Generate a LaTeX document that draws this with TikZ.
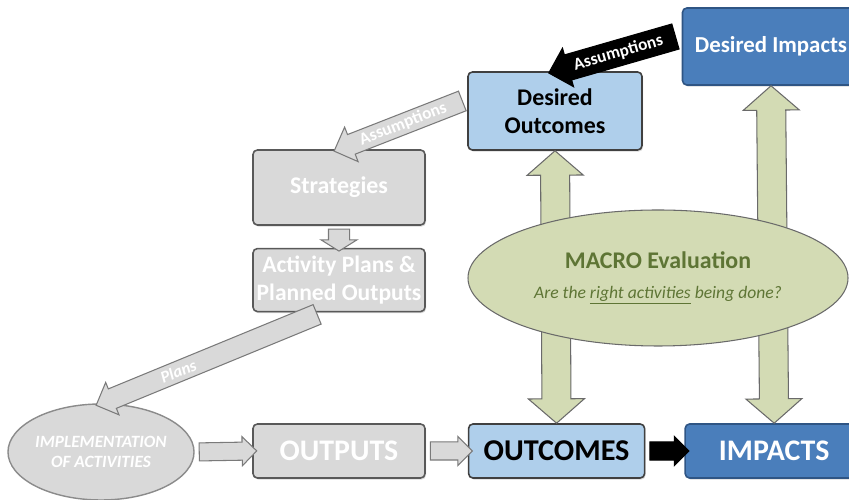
\documentclass[tikz,border=0pt]{standalone}
\usepackage{fontspec}
\setmainfont{Carlito}
\usepackage{xcolor}
\usepackage{tikz}
\usetikzlibrary{arrows.meta, positioning, shapes.geometric, shapes.arrows, calc, shadows}

\definecolor{impblue}{HTML}{4A7EBB}
\definecolor{impline}{HTML}{2F5584}
\definecolor{outblue}{HTML}{AFCFEB}
\definecolor{boxline}{HTML}{404040}
\definecolor{greyfill}{HTML}{D9D9D9}
\definecolor{greyline}{HTML}{595959}
\definecolor{macrofill}{HTML}{D3DBB4}
\definecolor{macrotext}{HTML}{5E7535}

% block arrow from #2 to #3, shape style #1
\newcommand{\blockarrow}[3]{%
  \path let \p1=(#2), \p2=(#3),
        \n1={veclen(\x2-\x1,\y2-\y1)}, \n2={atan2(\y2-\y1,\x2-\x1)} in
        node[#1, minimum height=\n1, rotate=\n2] at ($(\p1)!0.5!(\p2)$) {};}

\begin{document}
\begin{tikzpicture}[
    font=\bfseries,
    box/.style={rectangle, rounded corners=2.5pt, draw=#1, line width=0.9pt,
                align=center, inner sep=1pt,
                drop shadow={opacity=0.3, shadow xshift=0.6pt, shadow yshift=-0.9pt}},
    darkbox/.style={box=impline, fill=impblue, text=white},
    lightbox/.style={box=boxline, fill=outblue, text=black},
    greybox/.style={box=greyline, fill=greyfill, text=white},
    arrbase/.style={single arrow, inner xsep=0pt, line width=0.6pt,
                    minimum width=0pt},
    garr/.style={arrbase, fill=greyfill, draw=greyline!80},
    karr/.style={arrbase, fill=black, draw=black},
    flowg/.style={garr, inner ysep=0.17cm, single arrow head extend=0.11cm,
                  single arrow tip angle=90},
    flowk/.style={karr, inner ysep=0.17cm, single arrow head extend=0.11cm,
                  single arrow tip angle=90},
    stepdown/.style={garr, inner ysep=0.2cm, single arrow head extend=0.15cm,
                     single arrow tip angle=116},
    assumk/.style={karr, inner ysep=0.25cm, single arrow head extend=0.14cm,
                   single arrow tip angle=90},
    assumg/.style={garr, inner ysep=0.2cm, single arrow head extend=0.16cm,
                   single arrow tip angle=90},
    plansg/.style={garr, inner ysep=0.2cm, single arrow head extend=0.14cm,
                   single arrow tip angle=90},
    evalarr/.style={double arrow, inner xsep=0pt, inner ysep=0.28cm,
                    minimum width=0pt, double arrow head extend=0.27cm,
                    double arrow tip angle=98, fill=macrofill,
                    draw=greyline!90, line width=0.6pt},
    lbl/.style={text=white, font=\bfseries\fontsize{9.8}{11}\selectfont, inner sep=0pt}
  ]
  \useasboundingbox (0,0) rectangle (16.98,10);

  % top part
  \node[darkbox, minimum width=3.54cm, minimum height=1.54cm,
        font=\bfseries\fontsize{13}{15}\selectfont] (dimp) at (15.42,9.07)
        {Desired Impacts};
  \node[lightbox, minimum width=3.48cm, minimum height=1.56cm,
        font=\bfseries\fontsize{13.6}{15.8}\selectfont] (dout) at (11.10,7.78)
        {Desired\\Outcomes};

  \node[greybox, minimum width=3.44cm, minimum height=1.5cm,
        font=\bfseries\fontsize{13.6}{15.8}\selectfont] (strat) at (6.78,6.25)
        {Strategies};
  \node[greybox, minimum width=3.44cm, minimum height=1.26cm,
        font=\bfseries\fontsize{13.4}{15.8}\selectfont, below=0.44cm of strat] (act)
        {Activity Plans \&\\Planned Outputs};

  % bottom row
  \node[ellipse, draw=greyline!70, line width=0.8pt, fill=greyfill, text=white,
        minimum width=3.68cm, minimum height=1.92cm, inner sep=0pt, align=center,
        font=\bfseries\itshape\fontsize{9.8}{11.5}\selectfont] (impl) at (2.02,0.96)
        {IMPLEMENTATION\\OF ACTIVITIES};
  \node[greybox, minimum width=3.44cm, minimum height=1.08cm,
        font=\bfseries\fontsize{17}{19}\selectfont] (outp) at (6.78,0.98) {OUTPUTS};
  \node[lightbox, minimum width=3.52cm, minimum height=1.08cm,
        font=\bfseries\fontsize{17.2}{19}\selectfont, right=0.84cm of outp] (outc) {OUTCOMES};
  \node[darkbox, minimum width=3.56cm, minimum height=1.08cm,
        font=\bfseries\fontsize{17}{19}\selectfont, right=0.78cm of outc] (imp) {IMPACTS};

  \coordinate (dimpw) at ($(dimp.north west)!0.35!(dimp.south west)$);
  \coordinate (doutw) at ($(dout.north west)!0.35!(dout.south west)$);
  \coordinate (acts)  at ($(act.south)+(-0.34,0)$);

  % arrows
  \blockarrow{assumk}{dimpw}{dout.north}
  \blockarrow{assumg}{doutw}{strat.north}
  \blockarrow{stepdown}{strat.south}{act.north}
  \blockarrow{plansg}{acts}{impl.north}
  \blockarrow{flowg}{impl.east}{outp.west}
  \blockarrow{flowg}{outp.east}{outc.west}
  \blockarrow{flowk}{outc.east}{imp.west}
  \blockarrow{evalarr}{dout.south}{outc.north}
  \blockarrow{evalarr}{dimp.south}{imp.north}

  \path (dimpw) -- (dout.north) node[midway, sloped, lbl] {Assumptions};
  \path (doutw) -- (strat.north) node[midway, sloped, lbl] {Assumptions};
  \path (acts) -- (impl.north)
        node[pos=0.65, sloped, lbl, font=\bfseries\itshape\fontsize{9.5}{11}\selectfont] {Plans};

  % evaluation
  \node[ellipse, draw=greyline!90, line width=0.6pt, fill=macrofill,
        minimum width=7.6cm, minimum height=2.72cm, inner sep=0pt, align=center]
        (macro) at (13.16,4.44)
        {\textcolor{macrotext}{\fontsize{13.6}{17}\selectfont MACRO Evaluation}\\[5pt]
         \textcolor{macrotext}{\mdseries\itshape\fontsize{10}{12}\selectfont
         Are the \underline{right activities} being done?}};

\end{tikzpicture}
\end{document}
